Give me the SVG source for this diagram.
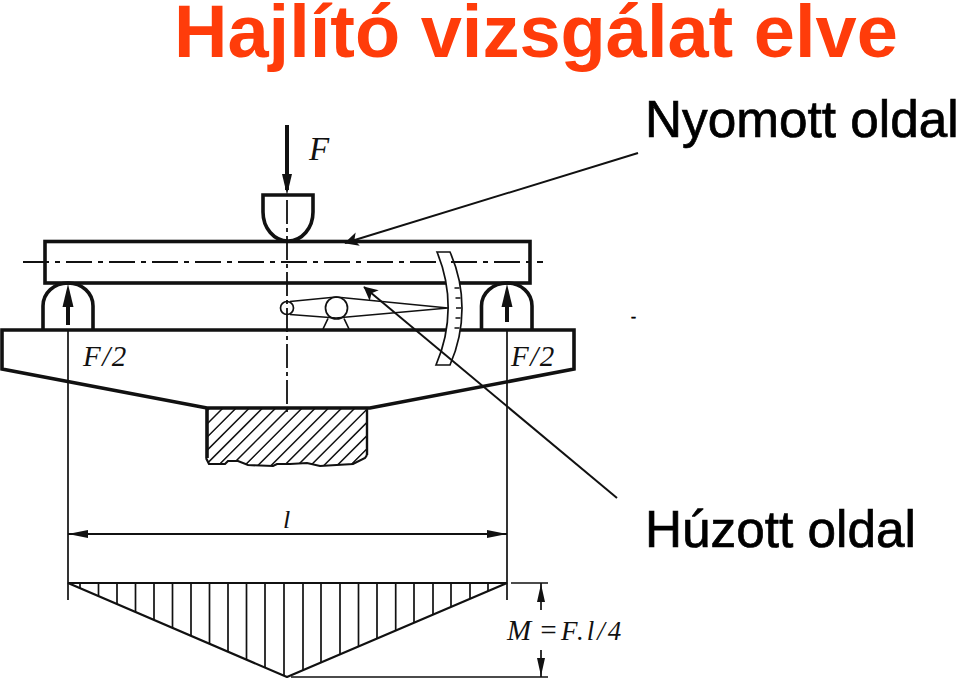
<svg xmlns="http://www.w3.org/2000/svg" width="960" height="678" viewBox="0 0 960 678">
<style>
.h{font-family:"Liberation Sans",Arial,sans-serif;fill:#000;stroke:#000;stroke-width:.7}
.m{font-family:"Liberation Serif","Times New Roman",serif;font-style:italic;fill:#111}
.k{fill:none;stroke:#111;stroke-width:3.6}
.t{fill:none;stroke:#111;stroke-width:1.7}
.c{fill:none;stroke:#111;stroke-width:1.8;stroke-dasharray:26 6 5 6}
.a{fill:none;stroke:#111;stroke-width:4}
.p{fill:#111;stroke:none}
</style>
<defs>
<clipPath id="sec"><path d="M206 408H367V455L365 458L353 464L320 466L307 463L290 464H277L273 466L248 465L238 461H228L225 464H209L206 458Z"/></clipPath>
<marker id="ah" viewBox="0 0 10 10" refX="9.5" refY="5" markerWidth="20" markerHeight="14" markerUnits="userSpaceOnUse" orient="auto"><path d="M0 0L10 5L0 10L2.5 5Z" fill="#111"/></marker>
</defs>
<rect width="960" height="678" fill="#fff"/>
<text id="title" x="174" y="57" font-size="74" font-weight="700" class="h" style="fill:#ff3c0a;stroke:none">Hajlító vizsgálat elve</text>
<g id="label-nyomott"><text x="645" y="137" font-size="51.300" class="h">Nyomott oldal</text></g>
<g id="label-huzott"><text x="645" y="547" font-size="51.300" class="h">Húzott oldal</text></g>
<text x="631" y="322" font-size="15" class="h">-</text>

<g id="beam"><rect x="45" y="241.500" width="485" height="41.500" class="k"/></g>
<g id="punch"><path class="k" d="M263 195H313V212C313 228 302 241 288 241C274 241 263 228 263 212Z" style="fill:#fff"/></g>
<g id="support-left"><path class="k" d="M43 330V306C43 293 54 283 68 283C82 283 93 293 93 306V330"/></g>
<g id="support-right"><path class="k" d="M481.500 329V306C481.500 293 493 283 507 283C521 283 532 293 532 306V329"/></g>
<g id="base"><path class="k" d="M2 330H574V369L370 408H207L2 369Z"/></g>
<g id="section">
<path class="k" d="M207 408V458"/><path class="t" style="stroke-width:2.400" d="M367 408V455"/>
<path class="t" style="stroke-width:2.200" d="M206 458L209 464H225L228 461H238L248 465L273 466L277 464H290L307 463L320 466L353 464L365 458L367 455"/>
<path class="t" clip-path="url(#sec)" style="stroke-width:1.500" d="M209.800 408l-60 60M223 408l-60 60M236.200 408l-60 60M249.400 408l-60 60M262.600 408l-60 60M275.800 408l-60 60M289 408l-60 60M302.200 408l-60 60M315.400 408l-60 60M328.600 408l-60 60M341.800 408l-60 60M355 408l-60 60M368.200 408l-60 60M381.400 408l-60 60M394.600 408l-60 60M407.800 408l-60 60M421 408l-60 60M434.200 408l-60 60"/>
</g>
<g id="gauge">
<path class="t" d="M437 252H450C466 288 466 328 450 365H436C452 328 452 288 437 252Z" style="fill:#fff"/>
<path class="t" d="M454.500 288H459.500M455.500 298H460.500M456 308H461M455.500 318H460.500M454.500 328H459.500"/>
<circle class="t" cx="287" cy="308" r="6.500"/>
<circle class="t" cx="336.500" cy="308" r="11"/>
<path class="t" d="M290 301.500L336 297L448 308L336 318L290 314.500M328 318.500L323 329M344 318.500L349 329"/>
</g>
<g id="connectors">
<path class="c" d="M23 262H436M451 262H543"/>
<path class="c" style="stroke-dasharray:24 4 4 4" d="M287 200V415"/>
<path class="a" d="M287 125V190"/><path class="p" d="M282 174H292L287 195Z"/>
<path class="a" d="M68 325V300"/><path class="p" d="M62.500 307H73.500L68 284Z"/>
<path class="a" d="M507 322V300"/><path class="p" d="M501.500 307H512.500L507 284Z"/>
<path class="t" d="M68 330V600M507 330V600M511 583H548M291 677H548"/>
<path class="t" style="stroke-width:2" d="M68 534H507"/>
<path class="p" d="M68 534L88 530V538ZM507 534L487 530V538Z"/>
<path class="t" style="stroke-width:2" d="M638 153L345 243" marker-end="url(#ah)"/>
<path class="t" style="stroke-width:2" d="M617 498L364 287" marker-end="url(#ah)"/>
<path class="t" d="M541 583V610M541 650V677"/>
<path class="p" d="M541 584L545 602H537ZM541 676L545 658H537Z"/>
</g>
<g id="moment">
<path class="t" style="stroke-width:2.200" d="M68 583H507L287 677Z"/>
<path class="t" d="M80 583V588M98.500 583V596M117 583V604M135.500 583V612M154 583V620M172.500 583V628M191 583V636M209.500 583V644M228 583V652M246.500 583V660M265 583V667M284 583V676M303 583V670M321 583V662M340 583V654M358.500 583V647M377 583V639M395.700 583V631M414 583V623M433 583V615M451 583V607M470 583V599M488 583V591"/>
</g>
<g id="labels">
<text x="309" y="160" font-size="33" class="m">F</text>
<text x="83" y="366" font-size="29" letter-spacing="1.500" class="m">F/2</text>
<text x="511" y="366" font-size="29" letter-spacing="1.500" class="m">F/2</text>
<text x="283" y="528" font-size="26" class="m">l</text>
<text x="507" y="640" font-size="29" class="m">M =</text>
<text x="561" y="640" font-size="27" letter-spacing="3" class="m">F.l/4</text>
</g>
</svg>
